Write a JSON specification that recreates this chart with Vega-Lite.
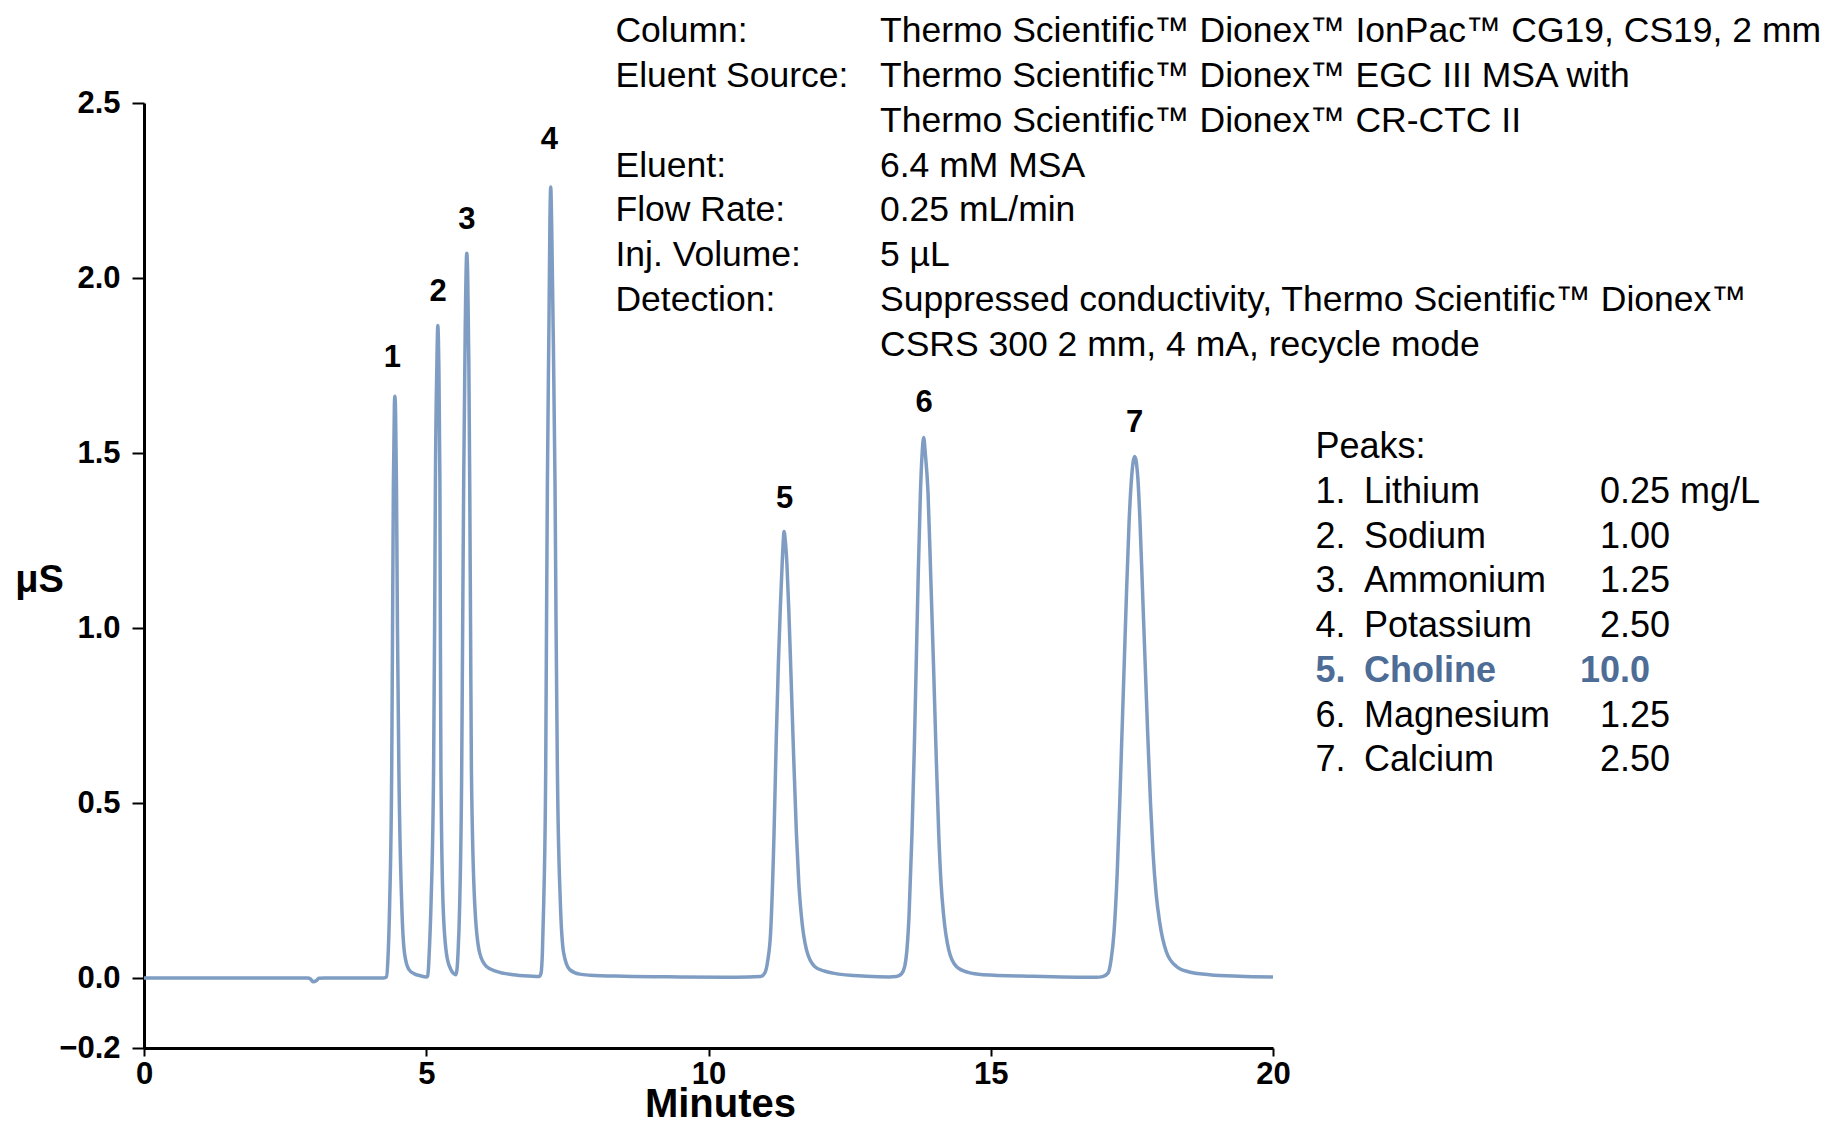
{
  "$schema": "https://vega.github.io/schema/vega-lite/v6.json",
  "autosize": {"type": "none"},
  "padding": {"left": 144, "top": 103, "right": 560, "bottom": 76},
  "width": 1129,
  "height": 945,
  "background": "white",
  "config": {"view": {"stroke": null}, "font": "Liberation Sans"},
  "datasets": {
    "trace": [
      {"t": 0, "uS": 0}, {"t": 1, "uS": 0}, {"t": 2, "uS": 0}, {"t": 2.9, "uS": 0},
      {"t": 2.95, "uS": -0.003}, {"t": 3.0, "uS": -0.011}, {"t": 3.05, "uS": -0.008}, {"t": 3.1, "uS": -0.001},
      {"t": 3.2, "uS": 0}, {"t": 4.0, "uS": 0}, {"t": 4.25, "uS": 0},
      {"t": 4.294, "uS": 0.003}, {"t": 4.32, "uS": 0.05}, {"t": 4.352, "uS": 0.214}, {"t": 4.388, "uS": 0.595},
      {"t": 4.403, "uS": 1.0}, {"t": 4.418, "uS": 1.414}, {"t": 4.436, "uS": 1.64}, {"t": 4.445, "uS": 1.662},
      {"t": 4.456, "uS": 1.62}, {"t": 4.472, "uS": 1.414}, {"t": 4.49, "uS": 1.0}, {"t": 4.515, "uS": 0.595},
      {"t": 4.565, "uS": 0.214}, {"t": 4.615, "uS": 0.071}, {"t": 4.694, "uS": 0.024}, {"t": 4.8, "uS": 0.011},
      {"t": 4.884, "uS": 0.007}, {"t": 5.0, "uS": 0.003},
      {"t": 5.025, "uS": 0.005}, {"t": 5.04, "uS": 0.03}, {"t": 5.055, "uS": 0.08}, {"t": 5.085, "uS": 0.214},
      {"t": 5.13, "uS": 0.595}, {"t": 5.148, "uS": 1.0}, {"t": 5.162, "uS": 1.414}, {"t": 5.188, "uS": 1.75},
      {"t": 5.205, "uS": 1.864}, {"t": 5.222, "uS": 1.76}, {"t": 5.242, "uS": 1.414}, {"t": 5.25, "uS": 1.0},
      {"t": 5.26, "uS": 0.595}, {"t": 5.297, "uS": 0.214}, {"t": 5.357, "uS": 0.071}, {"t": 5.433, "uS": 0.025},
      {"t": 5.49, "uS": 0.012}, {"t": 5.522, "uS": 0.009},
      {"t": 5.545, "uS": 0.025}, {"t": 5.563, "uS": 0.071}, {"t": 5.593, "uS": 0.214}, {"t": 5.628, "uS": 0.595},
      {"t": 5.645, "uS": 1.0}, {"t": 5.663, "uS": 1.414}, {"t": 5.69, "uS": 1.85}, {"t": 5.718, "uS": 2.071},
      {"t": 5.735, "uS": 2.0}, {"t": 5.755, "uS": 1.75}, {"t": 5.77, "uS": 1.414}, {"t": 5.785, "uS": 1.0},
      {"t": 5.8, "uS": 0.595}, {"t": 5.858, "uS": 0.214}, {"t": 5.947, "uS": 0.071}, {"t": 6.066, "uS": 0.033},
      {"t": 6.243, "uS": 0.019}, {"t": 6.537, "uS": 0.0095}, {"t": 6.951, "uS": 0.0046}, {"t": 7.0, "uS": 0.004},
      {"t": 7.035, "uS": 0.015}, {"t": 7.057, "uS": 0.071}, {"t": 7.081, "uS": 0.214}, {"t": 7.116, "uS": 0.595},
      {"t": 7.13, "uS": 1.0}, {"t": 7.146, "uS": 1.414}, {"t": 7.175, "uS": 1.89}, {"t": 7.19, "uS": 2.15},
      {"t": 7.205, "uS": 2.26}, {"t": 7.222, "uS": 2.15}, {"t": 7.245, "uS": 1.89}, {"t": 7.281, "uS": 1.414},
      {"t": 7.3, "uS": 1.0}, {"t": 7.323, "uS": 0.595}, {"t": 7.376, "uS": 0.214}, {"t": 7.435, "uS": 0.071},
      {"t": 7.541, "uS": 0.024}, {"t": 7.718, "uS": 0.011}, {"t": 7.9, "uS": 0.008}, {"t": 8.5, "uS": 0.005},
      {"t": 9.5, "uS": 0.003}, {"t": 10.5, "uS": 0.002}, {"t": 10.92, "uS": 0.004},
      {"t": 10.996, "uS": 0.014}, {"t": 11.05, "uS": 0.05}, {"t": 11.1, "uS": 0.129}, {"t": 11.161, "uS": 0.414},
      {"t": 11.2, "uS": 0.68}, {"t": 11.238, "uS": 0.9}, {"t": 11.273, "uS": 1.06}, {"t": 11.308, "uS": 1.195},
      {"t": 11.325, "uS": 1.25}, {"t": 11.338, "uS": 1.276}, {"t": 11.36, "uS": 1.25}, {"t": 11.39, "uS": 1.18},
      {"t": 11.425, "uS": 1.04}, {"t": 11.462, "uS": 0.862}, {"t": 11.505, "uS": 0.65}, {"t": 11.557, "uS": 0.414},
      {"t": 11.6, "uS": 0.27}, {"t": 11.646, "uS": 0.176}, {"t": 11.735, "uS": 0.081}, {"t": 11.88, "uS": 0.033}, {"t": 12.05, "uS": 0.02},
      {"t": 12.206, "uS": 0.014}, {"t": 12.797, "uS": 0.005}, {"t": 13.2, "uS": 0.003},
      {"t": 13.33, "uS": 0.004}, {"t": 13.42, "uS": 0.012}, {"t": 13.476, "uS": 0.033}, {"t": 13.52, "uS": 0.09},
      {"t": 13.552, "uS": 0.176}, {"t": 13.605, "uS": 0.414}, {"t": 13.645, "uS": 0.65}, {"t": 13.68, "uS": 0.9},
      {"t": 13.715, "uS": 1.15}, {"t": 13.754, "uS": 1.386}, {"t": 13.785, "uS": 1.5}, {"t": 13.812, "uS": 1.544},
      {"t": 13.84, "uS": 1.5}, {"t": 13.889, "uS": 1.386}, {"t": 13.937, "uS": 1.147}, {"t": 13.985, "uS": 0.9},
      {"t": 14.025, "uS": 0.68}, {"t": 14.078, "uS": 0.414}, {"t": 14.12, "uS": 0.27}, {"t": 14.167, "uS": 0.176},
      {"t": 14.255, "uS": 0.081}, {"t": 14.391, "uS": 0.033},
      {"t": 14.6, "uS": 0.016}, {"t": 14.863, "uS": 0.0095}, {"t": 15.749, "uS": 0.005}, {"t": 16.872, "uS": 0.002},
      {"t": 16.98, "uS": 0.004}, {"t": 17.077, "uS": 0.014}, {"t": 17.13, "uS": 0.05}, {"t": 17.183, "uS": 0.129},
      {"t": 17.24, "uS": 0.3}, {"t": 17.285, "uS": 0.5}, {"t": 17.325, "uS": 0.7}, {"t": 17.365, "uS": 0.9},
      {"t": 17.405, "uS": 1.1}, {"t": 17.45, "uS": 1.3}, {"t": 17.495, "uS": 1.43}, {"t": 17.55, "uS": 1.49},
      {"t": 17.605, "uS": 1.43}, {"t": 17.645, "uS": 1.3}, {"t": 17.69, "uS": 1.1}, {"t": 17.735, "uS": 0.9},
      {"t": 17.78, "uS": 0.7}, {"t": 17.83, "uS": 0.5}, {"t": 17.874, "uS": 0.36}, {"t": 17.93, "uS": 0.24},
      {"t": 17.992, "uS": 0.16}, {"t": 18.11, "uS": 0.075}, {"t": 18.289, "uS": 0.033},
      {"t": 18.5, "uS": 0.018}, {"t": 18.878, "uS": 0.0095}, {"t": 19.4, "uS": 0.005}, {"t": 20, "uS": 0.003}
    ],
    "peaklabels": [
      {"peak": "1", "t": 4.40, "uS": 1.771},
      {"peak": "2", "t": 5.21, "uS": 1.959},
      {"peak": "3", "t": 5.72, "uS": 2.167},
      {"peak": "4", "t": 7.18, "uS": 2.394},
      {"peak": "5", "t": 11.35, "uS": 1.369},
      {"peak": "6", "t": 13.82, "uS": 1.643},
      {"peak": "7", "t": 17.55, "uS": 1.586}
    ],
    "conditions": [
      {"label": "Column:", "value": "Thermo Scientific™ Dionex™ IonPac™ CG19, CS19, 2 mm", "uS": 2.6751},
      {"label": "Eluent Source:", "value": "Thermo Scientific™ Dionex™ EGC III MSA with", "uS": 2.5469},
      {"label": "", "value": "Thermo Scientific™ Dionex™ CR-CTC II", "uS": 2.4183},
      {"label": "Eluent:", "value": "6.4 mM MSA", "uS": 2.29},
      {"label": "Flow Rate:", "value": "0.25 mL/min", "uS": 2.1617},
      {"label": "Inj. Volume:", "value": "5 µL", "uS": 2.0331},
      {"label": "Detection:", "value": "Suppressed conductivity, Thermo Scientific™ Dionex™", "uS": 1.9049},
      {"label": "", "value": "CSRS 300 2 mm, 4 mA, recycle mode", "uS": 1.7766}
    ],
    "peaklist": [
      {"no": "Peaks:", "name": "", "amount": "", "uS": 1.4851, "highlight": false},
      {"no": "1.", "name": "Lithium", "amount": "0.25 mg/L", "uS": 1.3573, "highlight": false},
      {"no": "2.", "name": "Sodium", "amount": "1.00", "uS": 1.2294, "highlight": false},
      {"no": "3.", "name": "Ammonium", "amount": "1.25", "uS": 1.1016, "highlight": false},
      {"no": "4.", "name": "Potassium", "amount": "2.50", "uS": 0.9737, "highlight": false},
      {"no": "5.", "name": "Choline", "amount": "10.0", "uS": 0.8459, "highlight": true},
      {"no": "6.", "name": "Magnesium", "amount": "1.25", "uS": 0.718, "highlight": false},
      {"no": "7.", "name": "Calcium", "amount": "2.50", "uS": 0.5901, "highlight": false}
    ]
  },
  "layer": [
    {
      "data": {"name": "trace"},
      "mark": {"type": "line", "color": "#7f9dc2", "strokeWidth": 3.5, "interpolate": "monotone"},
      "encoding": {
        "x": {
          "field": "t", "type": "quantitative",
          "scale": {"domain": [0, 20], "nice": false, "zero": false},
          "axis": {
            "title": "Minutes", "values": [0, 5, 10, 15, 20], "format": "d", "grid": false,
            "labelFont": "Liberation Sans", "labelFontWeight": "bold", "labelFontSize": 31, "labelColor": "black",
            "labelPadding": 3, "labelFlush": false, "labelOverlap": false, "tickSize": 8, "tickWidth": 2, "tickColor": "black",
            "domainColor": "black", "domainWidth": 3,
            "titleFont": "Liberation Sans", "titleFontWeight": "bold", "titleFontSize": 40, "titleColor": "black",
            "titleX": 576, "titleY": 68, "titleBaseline": "alphabetic", "titleAlign": "center"
          }
        },
        "y": {
          "field": "uS", "type": "quantitative",
          "scale": {"domain": [-0.2, 2.5], "nice": false, "zero": false},
          "axis": {
            "title": "μS", "values": [-0.2, 0, 0.5, 1, 1.5, 2, 2.5], "format": ".1f", "grid": false,
            "labelFont": "Liberation Sans", "labelFontWeight": "bold", "labelFontSize": 31, "labelColor": "black",
            "labelPadding": 12, "labelFlush": false, "labelOverlap": false, "tickSize": 12, "tickWidth": 2, "tickColor": "black",
            "domainColor": "black", "domainWidth": 3,
            "titleFont": "Liberation Sans", "titleFontWeight": "bold", "titleFontSize": 38, "titleColor": "black",
            "titleAngle": 0, "titleX": -105, "titleY": 477, "titleAlign": "center", "titleBaseline": "middle"
          }
        }
      }
    },
    {
      "data": {"name": "peaklabels"},
      "mark": {"type": "text", "font": "Liberation Sans", "fontWeight": "bold", "fontSize": 31, "color": "black", "align": "center", "baseline": "middle"},
      "encoding": {
        "x": {"field": "t", "type": "quantitative"},
        "y": {"field": "uS", "type": "quantitative"},
        "text": {"field": "peak"}
      }
    },
    {
      "data": {"name": "conditions"},
      "mark": {"type": "text", "font": "Liberation Sans", "fontSize": 35.5, "color": "black", "align": "left", "baseline": "alphabetic"},
      "encoding": {
        "x": {"datum": 8.352, "type": "quantitative"},
        "y": {"field": "uS", "type": "quantitative"},
        "text": {"field": "label"}
      }
    },
    {
      "data": {"name": "conditions"},
      "mark": {"type": "text", "font": "Liberation Sans", "fontSize": 35.5, "color": "black", "align": "left", "baseline": "alphabetic"},
      "encoding": {
        "x": {"datum": 13.038, "type": "quantitative"},
        "y": {"field": "uS", "type": "quantitative"},
        "text": {"field": "value"}
      }
    },
    {
      "data": {"name": "peaklist"},
      "transform": [{"filter": "!datum.highlight"}],
      "mark": {"type": "text", "font": "Liberation Sans", "fontSize": 36, "color": "black", "align": "left", "baseline": "alphabetic"},
      "encoding": {
        "x": {"datum": 20.753, "type": "quantitative"},
        "y": {"field": "uS", "type": "quantitative"},
        "text": {"field": "no"}
      }
    },
    {
      "data": {"name": "peaklist"},
      "transform": [{"filter": "!datum.highlight"}],
      "mark": {"type": "text", "font": "Liberation Sans", "fontSize": 36, "color": "black", "align": "left", "baseline": "alphabetic"},
      "encoding": {
        "x": {"datum": 21.612, "type": "quantitative"},
        "y": {"field": "uS", "type": "quantitative"},
        "text": {"field": "name"}
      }
    },
    {
      "data": {"name": "peaklist"},
      "transform": [{"filter": "!datum.highlight"}],
      "mark": {"type": "text", "font": "Liberation Sans", "fontSize": 36, "color": "black", "align": "left", "baseline": "alphabetic"},
      "encoding": {
        "x": {"datum": 25.793, "type": "quantitative"},
        "y": {"field": "uS", "type": "quantitative"},
        "text": {"field": "amount"}
      }
    },
    {
      "data": {"name": "peaklist"},
      "transform": [{"filter": "datum.highlight"}],
      "mark": {"type": "text", "font": "Liberation Sans", "fontSize": 36, "fontWeight": "bold", "color": "#4d6c96", "align": "left", "baseline": "alphabetic"},
      "encoding": {
        "x": {"datum": 20.753, "type": "quantitative"},
        "y": {"field": "uS", "type": "quantitative"},
        "text": {"field": "no"}
      }
    },
    {
      "data": {"name": "peaklist"},
      "transform": [{"filter": "datum.highlight"}],
      "mark": {"type": "text", "font": "Liberation Sans", "fontSize": 36, "fontWeight": "bold", "color": "#4d6c96", "align": "left", "baseline": "alphabetic"},
      "encoding": {
        "x": {"datum": 21.612, "type": "quantitative"},
        "y": {"field": "uS", "type": "quantitative"},
        "text": {"field": "name"}
      }
    },
    {
      "data": {"name": "peaklist"},
      "transform": [{"filter": "datum.highlight"}],
      "mark": {"type": "text", "font": "Liberation Sans", "fontSize": 36, "fontWeight": "bold", "color": "#4d6c96", "align": "left", "baseline": "alphabetic"},
      "encoding": {
        "x": {"datum": 25.439, "type": "quantitative"},
        "y": {"field": "uS", "type": "quantitative"},
        "text": {"field": "amount"}
      }
    }
  ]
}
